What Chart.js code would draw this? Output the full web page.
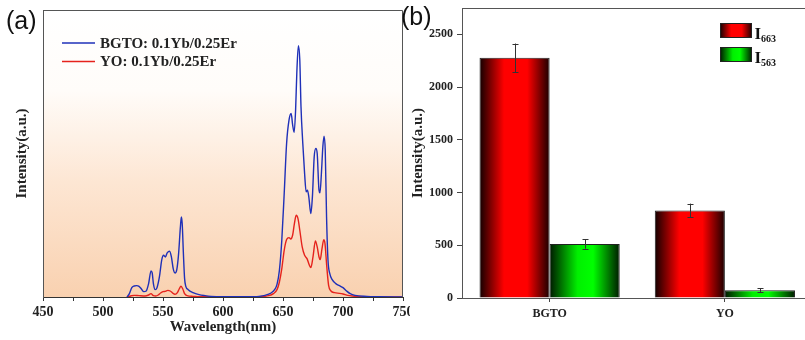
<!DOCTYPE html>
<html><head><meta charset="utf-8">
<script src="https://cdn.jsdelivr.net/npm/chart.js@4"></script>
<style>
html,body{margin:0;padding:0;background:#fff;overflow:hidden;width:805px;height:340px;position:relative}
#wrapA{position:absolute;left:0;top:0;width:410px;height:340px}
#wrapB{position:absolute;left:400px;top:0;width:430px;height:340px}
</style></head><body>
<div id="wrapA"><canvas id="cA" width="410" height="340"></canvas></div>
<div id="wrapB"><canvas id="cB" width="430" height="340"></canvas></div>
<script>
// ---------- Panel (a): upconversion emission spectra ----------
const spectrumLabels = ['BGTO: 0.1Yb/0.25Er', 'YO: 0.1Yb/0.25Er'];
const bgtoWavelength = [520,522,524,526,528,530,532,534,536,538,540,541,542,543.5,545,547,549,550.5,552,553.5,555.5,557,558.5,560,561.5,563,564.5,565.3,566,567,568,569,571,575,580,585,590,600,620,630,635,640,643,645,647,649,651,653,655,656.8,658,659.3,660.5,661.5,662.8,664,665,666.5,668,669.3,670.4,671.5,673.2,674.5,676,677.4,678.5,680,680.8,682,683.2,684.2,685.2,686.3,687.5,689,691,694,697,700,703,706,710,720,730,750];
const bgtoIntensity  = [0,30,84,99,102,96,72,48,54,120,234,216,120,66,84,180,336,375,360,396,411,360,255,216,246,390,630,720,660,390,165,96,66,39,21,12,6,3,3,6,15,36,66,114,240,510,930,1380,1590,1650,1550,1480,1680,2010,2259,2130,1710,1380,1110,945,960,900,750,900,1260,1335,1290,960,936,1110,1350,1446,1320,720,330,210,156,120,102,84,54,30,15,6,3,0];
const yoWavelength = [520,523,526,530,535,538,540,542,544,546,548,550,552,554,556,558,560,562,563.5,565,566.5,568,570,575,580,630,638,642,645,647,649,651,653,655,656.5,658,659.5,661,662.5,664,666,668,670,672,673.2,675,677,678.5,680,681,682.5,684,685,686.5,688,690,693,697,700,704,708,715,750];
const yoIntensity  = [0,9,15,12,9,18,30,12,9,18,36,48,51,60,54,36,24,39,72,96,72,30,12,6,3,3,12,30,66,135,255,420,516,534,522,555,660,735,705,600,450,375,345,285,264,360,504,450,360,336,435,516,480,270,105,54,39,33,27,15,9,3,0];
const wavelengthRange = [450, 750];
const intensityRange = [0, 2580];

// ---------- Panel (b): integrated intensities ----------
const categories = ['BGTO', 'YO'];
const seriesSymbol = ['I', 'I'];
const seriesSub = ['663', '563'];
const i663Values = [2278, 830];
const i663Errors = [135, 65];
const i563Values = [513, 73];
const i563Errors = [45, 19];
const barTicks = [0, 500, 1000, 1500, 2000, 2500];
const barRange = [0, 2750];

const serif = "'Liberation Serif', 'Times New Roman', serif";
const sans = "'Liberation Sans', Arial, sans-serif";
const txt = '#222';

// background gradient + frame for (a)
const bgPlugin = {
  id: 'bgA',
  beforeDraw(chart) {
    const {ctx, chartArea: a} = chart;
    const g = ctx.createLinearGradient(0, a.top, 0, a.bottom);
    g.addColorStop(0, '#ffffff');
    g.addColorStop(0.28, '#fffcf9');
    g.addColorStop(0.6, '#fde6d3');
    g.addColorStop(1, '#f9d1b0');
    ctx.save(); ctx.fillStyle = g;
    ctx.fillRect(a.left, a.top, a.right - a.left, a.bottom - a.top);
    ctx.restore();
  },
  afterDraw(chart) {
    const {ctx, chartArea: a} = chart;
    ctx.save(); ctx.strokeStyle = '#555'; ctx.lineWidth = 1;
    ctx.beginPath();
    ctx.moveTo(a.left + 0.5, a.top + 0.5); ctx.lineTo(a.right - 0.5, a.top + 0.5); ctx.lineTo(a.right - 0.5, a.bottom);
    ctx.stroke();
    // legend
    const rows = [43, 61.5];
    ctx.font = `bold 15px ${serif}`; ctx.textBaseline = 'middle'; ctx.textAlign = 'left';
    chart.data.datasets.forEach((ds, i) => {
      ctx.strokeStyle = ds.borderColor; ctx.lineWidth = 1.5;
      ctx.beginPath(); ctx.moveTo(62, rows[i]); ctx.lineTo(95, rows[i]); ctx.stroke();
      ctx.fillStyle = txt; ctx.fillText(ds.label, 100, rows[i] + 1);
    });
    ctx.font = `25px ${sans}`; ctx.fillStyle = '#111'; ctx.textBaseline = 'alphabetic';
    ctx.fillText('(a)', 6, 29);
    ctx.restore();
  }
};

new Chart(document.getElementById('cA'), {
  type: 'line',
  data: {
    datasets: [
      {label: spectrumLabels[0], data: bgtoWavelength.map((x, i) => ({x, y: bgtoIntensity[i]})),
       borderColor: '#1f30b8', borderWidth: 1.4, pointRadius: 0, cubicInterpolationMode: 'monotone', fill: false},
      {label: spectrumLabels[1], data: yoWavelength.map((x, i) => ({x, y: yoIntensity[i]})),
       borderColor: '#e5221c', borderWidth: 1.4, pointRadius: 0, cubicInterpolationMode: 'monotone', fill: false}
    ]
  },
  options: {
    responsive: false, animation: false,
    layout: {padding: {top: 10, right: 7, left: 0, bottom: 0}},
    plugins: {legend: {display: false}, tooltip: {enabled: false}},
    scales: {
      x: {
        type: 'linear', min: wavelengthRange[0], max: wavelengthRange[1],
        ticks: {stepSize: 25, autoSkip: false, maxRotation: 0, padding: 3, color: txt,
                font: {family: serif, weight: 'bold', size: 14},
                callback: v => (v % 50 === 0 ? String(v) : '')},
        grid: {drawOnChartArea: false, tickLength: 4, color: '#333'},
        border: {color: '#333', width: 1},
        title: {display: true, text: 'Wavelength(nm)', color: txt,
                font: {family: serif, weight: 'bold', size: 15}, padding: {top: 0, bottom: 4}},
        afterFit(s) { s.height = 43; s.paddingLeft = 0; s.paddingRight = 0; }
      },
      y: {
        min: intensityRange[0], max: intensityRange[1],
        ticks: {display: false}, grid: {display: false}, border: {color: '#555'},
        title: {display: true, text: 'Intensity(a.u.)', color: txt,
                font: {family: serif, weight: 'bold', size: 15}, padding: {top: 13, bottom: 0}},
        afterFit(s) { s.width = 43; s.paddingTop = 0; s.paddingBottom = 0; }
      }
    }
  },
  plugins: [bgPlugin]
});

// ---------- bar chart ----------
const barStops = {
  red: [[0, '#120000'], [0.35, '#ff0000'], [0.68, '#ff0000'], [1, '#1a0000']],
  green: [[0, '#001800'], [0.4, '#00f000'], [0.62, '#00ff00'], [1, '#001a00']]
};
function hGrad(ctx, x0, x1, stops) {
  const g = ctx.createLinearGradient(x0, 0, x1, 0);
  stops.forEach(s => g.addColorStop(s[0], s[1]));
  return g;
}
function barFill(name, side) {
  return (c) => {
    const chart = c.chart;
    const xs = chart.scales && chart.scales.x;
    if (c.type !== 'data' || !xs || !chart.chartArea) return name === 'red' ? '#f00' : '#0f0';
    const center = xs.getPixelForValue(c.dataIndex);
    const bw = (xs.width / categories.length) * 0.8 / 2;
    const left = side === 0 ? center - bw : center;
    return hGrad(chart.ctx, left, left + bw, barStops[name]);
  };
}
const errorSets = [i663Errors, i563Errors];
const barPlugin = {
  id: 'barExtras',
  afterDatasetsDraw(chart) {
    const {ctx} = chart; const ys = chart.scales.y;
    ctx.save(); ctx.strokeStyle = '#333'; ctx.lineWidth = 1;
    chart.data.datasets.forEach((ds, di) => {
      const meta = chart.getDatasetMeta(di);
      meta.data.forEach((bar, i) => {
        const v = ds.data[i], e = errorSets[di][i];
        const x = Math.round(bar.x) + 0.5;
        const yt = ys.getPixelForValue(v + e), yb = ys.getPixelForValue(v - e);
        ctx.beginPath();
        ctx.moveTo(x, yt); ctx.lineTo(x, yb);
        ctx.moveTo(x - 3, Math.round(yt) + 0.5); ctx.lineTo(x + 3, Math.round(yt) + 0.5);
        ctx.moveTo(x - 3, Math.round(yb) + 0.5); ctx.lineTo(x + 3, Math.round(yb) + 0.5);
        ctx.stroke();
      });
    });
    ctx.restore();
  },
  afterDraw(chart) {
    const {ctx, chartArea: a} = chart;
    ctx.save();
    ctx.strokeStyle = '#555'; ctx.lineWidth = 1;
    ctx.beginPath(); ctx.moveTo(a.left, a.top + 0.5); ctx.lineTo(a.right, a.top + 0.5); ctx.stroke();
    // legend
    const rows = [23, 47];
    const names = ['red', 'green'];
    chart.data.datasets.forEach((ds, i) => {
      const y = rows[i];
      ctx.fillStyle = hGrad(ctx, 320, 352, barStops[names[i]]);
      ctx.fillRect(320, y, 32, 15);
      ctx.strokeStyle = '#222'; ctx.strokeRect(320.5, y + 0.5, 31, 14);
      ctx.fillStyle = '#111'; ctx.textBaseline = 'alphabetic'; ctx.textAlign = 'left';
      ctx.font = `bold 17px ${serif}`;
      ctx.fillText(seriesSymbol[i], 354.5, y + 15.5);
      ctx.font = `bold 10px ${serif}`;
      ctx.fillText(seriesSub[i], 361, y + 19);
    });
    ctx.font = `25px ${sans}`; ctx.fillStyle = '#111';
    ctx.fillText('(b)', 1, 25);
    ctx.restore();
  }
};

new Chart(document.getElementById('cB'), {
  type: 'bar',
  data: {
    labels: categories,
    datasets: [
      {label: seriesSymbol[0] + seriesSub[0], data: i663Values, backgroundColor: barFill('red', 0),
       borderColor: '#222', borderWidth: 1, categoryPercentage: 0.8, barPercentage: 1.0},
      {label: seriesSymbol[1] + seriesSub[1], data: i563Values, backgroundColor: barFill('green', 1),
       borderColor: '#222', borderWidth: 1, categoryPercentage: 0.8, barPercentage: 1.0}
    ]
  },
  options: {
    responsive: false, animation: false,
    layout: {padding: {top: 8, right: 17.5, left: 0, bottom: 0}},
    plugins: {legend: {display: false}, tooltip: {enabled: false}},
    scales: {
      x: {
        grid: {offset: false, drawOnChartArea: false, tickLength: 4, color: '#444'},
        border: {color: '#555'},
        ticks: {padding: 5, color: txt, font: {family: serif, weight: 'bold', size: 12}},
        afterFit(s) { s.height = 42; s.paddingLeft = 0; s.paddingRight = 0; }
      },
      y: {
        min: barRange[0], max: barRange[1],
        afterBuildTicks(s) { s.ticks = barTicks.map(v => ({value: v})); },
        ticks: {padding: 4, color: txt, font: {family: serif, weight: 'bold', size: 12},
                callback: v => String(v)},
        grid: {drawOnChartArea: false, tickLength: 5, color: '#444'},
        border: {color: '#555'},
        title: {display: true, text: 'Intensity(a.u.)', color: txt,
                font: {family: serif, weight: 'bold', size: 15}, padding: {top: 9, bottom: 0}},
        afterFit(s) { s.width = 62; s.paddingTop = 0; s.paddingBottom = 0; }
      }
    }
  },
  plugins: [barPlugin]
});
</script>
</body></html>
